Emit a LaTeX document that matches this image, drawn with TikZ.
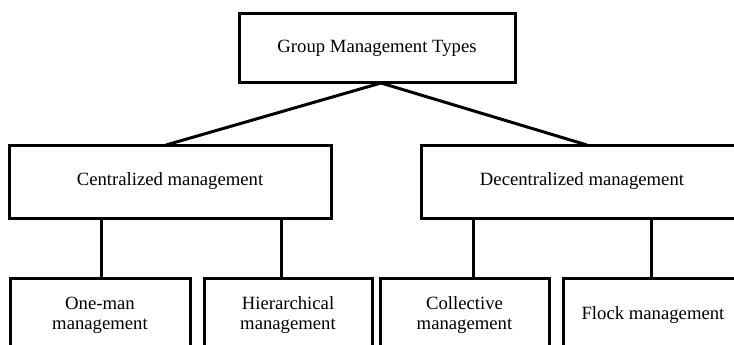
\documentclass[tikz,border=0pt]{standalone}
\usepackage{fontspec}
\setmainfont{Liberation Serif}
\usepackage{tikz}
\usetikzlibrary{positioning}

\begin{document}
\begin{tikzpicture}[x=1pt,y=-1pt,line width=3pt,
  every node/.style={draw,rectangle,align=center,inner sep=0pt,outer sep=0pt,font=\fontsize{18.7}{20}\selectfont},
  leaf/.style={minimum width=180pt,minimum height=74pt}]
  \clip (0,0) rectangle (734,345);
  \node (top) at (377,48.5) [minimum width=276pt,minimum height=69pt]{Group Management Types};
  \node (cen) at (170,181.5) [minimum width=322pt,minimum height=73pt]{Centralized management};
  \node (dec) at (582,181.5) [minimum width=322pt,minimum height=73pt]{Decentralized management};

  \node (one) at (100,315) [leaf]{One-man\\management};
  \node[right=14pt of one,leaf,minimum width=168pt] (hie){Hierarchical\\management};
  \node[right=8pt of hie,leaf,minimum width=169pt] (col){Collective\\management};
  \node[right=14pt of col,leaf] (flo){Flock management};

  \draw([xshift=4pt]top.south)--([xshift=-4pt]cen.north);
  \draw([xshift=4pt]top.south)--([xshift=5pt]dec.north);
  \draw([xshift=1pt]one.north)--([xshift=1pt]one.north |- cen.south);
  \draw([xshift=-7pt]hie.north)--([xshift=-7pt]hie.north |- cen.south);
  \draw([xshift=9pt]col.north)--([xshift=9pt]col.north |- dec.south);
  \draw([xshift=-2pt]flo.north)--([xshift=-2pt]flo.north |- dec.south);
\end{tikzpicture}
\end{document}
